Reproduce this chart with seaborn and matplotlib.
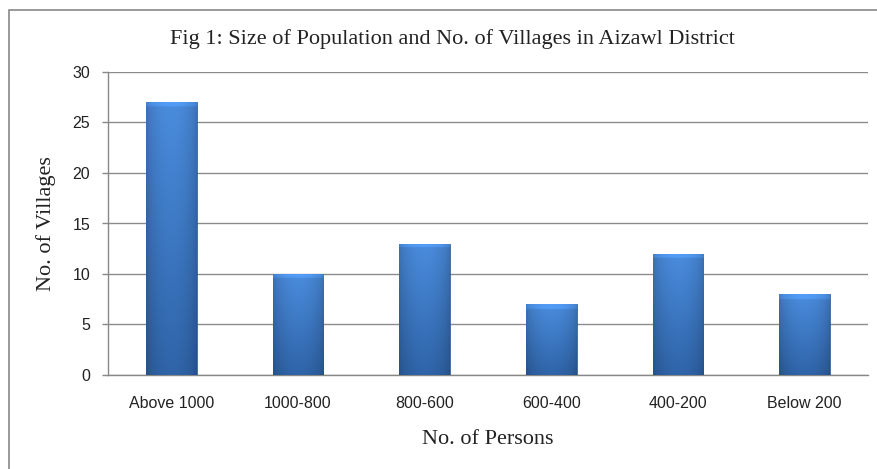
import numpy as np
import pandas as pd
import matplotlib
matplotlib.use("Agg")
import matplotlib.pyplot as plt
import seaborn as sns
from matplotlib.patches import Rectangle
from matplotlib.colors import to_rgb

categories = ["Above 1000", "1000-800", "800-600", "600-400", "400-200", "Below 200"]
villages = [27, 10, 13, 7, 12, 8]
yticks = [0, 5, 10, 15, 20, 25, 30]

df = pd.DataFrame({"persons": categories, "villages": villages})

sns.set_theme(style="white")
plt.rcParams["font.family"] = ["Liberation Sans", "DejaVu Sans"]
serif = ["Liberation Serif", "DejaVu Serif"]

fig = plt.figure(figsize=(8.78, 4.69), dpi=100)
ax = fig.add_axes([108/878, 1-375/469, (868-108)/878, (375-72)/469])

sns.barplot(data=df, x="persons", y="villages", ax=ax, color="#3A74C2",
            width=0.40, saturation=1, edgecolor="#2A5590", linewidth=0.5, zorder=3)

# shaded fill (horizontal darkening at edges, vertical darker toward bottom)
top_c = np.array(to_rgb("#4A8CDD"))
bot_c = np.array(to_rgb("#2F64A8"))
nx, ny = 64, 128
t = np.linspace(0, 1, nx)
hf = 0.80 + 0.20 * np.sin(np.pi * t) ** 0.6
v = np.linspace(0, 1, ny)[:, None]
for p in ax.patches:
    x0, y0 = p.get_x(), p.get_y()
    w, h = p.get_width(), p.get_height()
    col = bot_c[None, None, :] * (1 - v[..., None]) + top_c[None, None, :] * v[..., None]
    img = col * hf[None, :, None]
    # top bevel: lighter thin band
    bev_rows = max(1, int(ny * min(0.5 / h, 0.2)))
    img[-bev_rows:, :, :] = np.clip(img[-bev_rows:, :, :] * 1.12, 0, 1)
    im = ax.imshow(np.clip(img, 0, 1), extent=[x0, x0 + w, y0, y0 + h], aspect="auto",
                   zorder=3.5, origin="lower", interpolation="bilinear")
    im.set_clip_path(p)

ax.set_xlim(-0.5, len(categories) - 0.5)
ax.set_ylim(0, 30)
ax.set_yticks(yticks)
ax.set_yticklabels([str(v_) for v_ in yticks], fontsize=11.5, color="#222222")
ax.set_xticks(range(len(categories)))
ax.set_xticklabels(categories, fontsize=11.5, color="#222222")
ax.set_xticks(np.arange(-0.5, len(categories)), minor=True)
ax.tick_params(axis="x", which="major", length=0, pad=15)
ax.tick_params(axis="x", which="minor", length=4.3, color="#888888", width=1, direction="out")
ax.tick_params(axis="y", which="major", length=4.3, color="#888888", width=1,
               direction="out", left=True, pad=8.5)

ax.yaxis.grid(True, color="#8C8C8C", linewidth=1, zorder=0)
ax.set_axisbelow(True)
for s in ["top", "right"]:
    ax.spines[s].set_visible(False)
for s in ["left", "bottom"]:
    ax.spines[s].set_color("#888888")
    ax.spines[s].set_linewidth(1)

ax.set_xlabel("No. of Persons", family=serif, fontsize=16, color="#222222", labelpad=14)
ax.set_ylabel("No. of Villages", family=serif, fontsize=16, color="#222222", labelpad=12)

fig.text(452/878, 1-39/469, "Fig 1: Size of Population and No. of Villages in Aizawl District",
         ha="center", va="center", family=serif, fontsize=16, color="#222222")

fig.patches.append(Rectangle((9/878, -0.05), 1.1, (1-10/469) + 0.05, transform=fig.transFigure,
                             fill=False, edgecolor="#888888", linewidth=1.2))

fig.savefig("out.png", dpi=100)
